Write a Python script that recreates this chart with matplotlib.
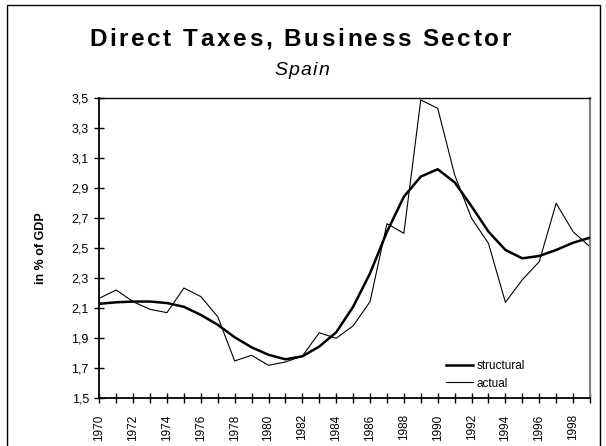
import matplotlib
matplotlib.use("Agg")
import matplotlib.pyplot as plt
from matplotlib.patches import Rectangle

plt.rcParams["font.family"] = ["Liberation Sans", "DejaVu Sans"]

# ========= DATA
years = list(range(1970, 2000))

structural = [2.13, 2.14, 2.145, 2.145, 2.135, 2.11, 2.056, 1.99, 1.907, 1.84,
              1.79, 1.76, 1.78, 1.845, 1.94, 2.11, 2.333, 2.61, 2.844, 2.978,
              3.027, 2.94, 2.78, 2.611, 2.489, 2.433, 2.449, 2.489, 2.537, 2.571]

actual = [2.167, 2.222, 2.144, 2.093, 2.071, 2.235, 2.178, 2.044, 1.749, 1.787,
          1.72, 1.742, 1.782, 1.937, 1.9, 1.983, 2.144, 2.664, 2.6, 3.489,
          3.433, 2.99, 2.7, 2.533, 2.14, 2.29, 2.411, 2.8, 2.611, 2.51]

y_ticks = [1.5, 1.7, 1.9, 2.1, 2.3, 2.5, 2.7, 2.9, 3.1, 3.3, 3.5]

W, H = 606, 446


def spaced_text(fig, xc, y_base, s, target_w, **kw):
    """Draw text letter by letter so it spans target_w pixels (Excel-like tracking)."""
    r = fig.canvas.get_renderer()

    def width(txt):
        t = fig.text(0, 0, txt, **kw)
        w = t.get_window_extent(r).width
        t.remove()
        return w

    space_w = width("a a") - width("aa")
    widths = [space_w if ch == " " else width(ch) for ch in s]
    gap = (target_w - sum(widths)) / (len(s) - 1)
    x = xc - target_w / 2
    for ch, w in zip(s, widths):
        if ch != " ":
            fig.text(x / W, 1 - y_base / H, ch, ha="left", va="baseline", **kw)
        x += w + gap


# ========= FIGURE
fig = plt.figure(figsize=(W / 100, H / 100), dpi=100)
ax = fig.add_axes([99.3 / W, 47.7 / H, 490.7 / W, 300 / H])

ax.plot(years, structural, color="black", lw=1.8, label="structural",
        solid_joinstyle="round", zorder=3)
ax.plot(years, actual, color="black", lw=0.8, label="actual", zorder=2)

ax.set_xlim(1970, 1999)
ax.set_ylim(1.5, 3.5)

ax.set_yticks(y_ticks)
ax.set_yticklabels([f"{v:.1f}".replace(".", ",") for v in y_ticks], fontsize=9)
ax.set_xticks(years)
ax.set_xticklabels([str(y) if y % 2 == 0 and y < 1999 else "" for y in years],
                   rotation=90, fontsize=8.5)
ax.tick_params(direction="inout", length=7, width=1, color="black")
ax.tick_params(axis="x", pad=8)
ax.tick_params(axis="y", pad=4)

ax.spines["left"].set_linewidth(1.3)
ax.spines["bottom"].set_linewidth(1.3)
ax.spines["top"].set_linewidth(1)
ax.spines["right"].set_color("#808080")
ax.spines["right"].set_linewidth(1.5)

ax.set_ylabel("in % of GDP", fontsize=9, fontweight="bold", labelpad=18)

ax.legend(loc="center left", bbox_to_anchor=(0.7066, 0.078), frameon=False,
          fontsize=8.5, handlelength=2.3, handletextpad=0.3, labelspacing=0.45,
          borderpad=0, borderaxespad=0)

spaced_text(fig, 300, 45.7, "Direct Taxes, Business Sector", 422,
            fontsize=17.5, fontweight="bold")
spaced_text(fig, 302, 75, "Spain", 55, fontsize=14, style="italic")

# outer chart-area border
fig.add_artist(Rectangle((7 / W, -0.02), 593 / W, 1.02 - 5 / H,
                         transform=fig.transFigure, fill=False,
                         edgecolor="black", lw=1))

fig.savefig("out.png", dpi=100)
